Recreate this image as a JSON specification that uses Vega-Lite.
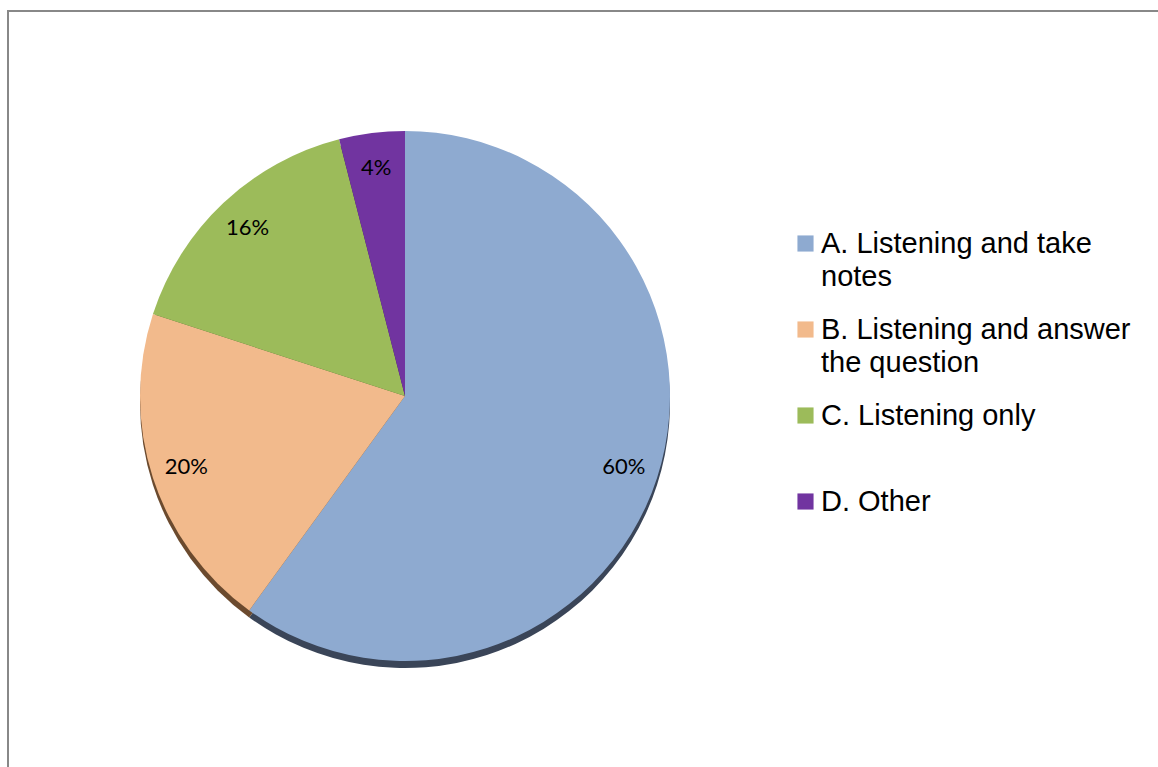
{
  "$schema": "https://vega.github.io/schema/vega-lite/v6.json",
  "width": 1160,
  "height": 770,
  "autosize": {"type": "none"},
  "padding": {"left": 8, "top": 11, "right": 0, "bottom": 0},
  "background": "white",
  "view": {"stroke": "#888888", "strokeWidth": 2, "fill": "white"},
  "config": {"view": {"stroke": "#888888", "strokeWidth": 2}},
  "data": {
    "values": [
      {"category": "A. Listening and take|notes", "value": 60, "label": "60%"},
      {"category": "B. Listening and answer|the question", "value": 20, "label": "20%"},
      {"category": "C. Listening only| ", "value": 16, "label": "16%"},
      {"category": "D. Other| ", "value": 4, "label": "4%"}
    ]
  },
  "encoding": {
    "theta": {"field": "value", "type": "quantitative", "stack": true},
    "order": {"field": "category", "sort": "ascending"}
  },
  "layer": [
    {
      "mark": {"type": "arc", "radius": 265, "x": 397, "yOffset": 7},
      "encoding": {
        "color": {
          "field": "category", "type": "nominal",
          "scale": {"range": ["#3A4558", "#6B4A2E", "#4F6030", "#3A1A55"]},
          "legend": null
        }
      }
    },
    {
      "mark": {"type": "arc", "radius": 265, "x": 397},
      "encoding": {
        "color": {
          "field": "category", "type": "nominal",
          "scale": {"range": ["#8EAAD0", "#F2BA8C", "#9CBB5A", "#7134A0"]},
          "legend": {
            "title": null,
            "orient": "none",
            "legendX": 783,
            "legendY": 218,
            "padding": 0,
            "symbolType": "square",
            "symbolSize": 260,
            "symbolStrokeWidth": 0,
            "labelFont": "Liberation Sans",
            "labelFontSize": 29,
            "labelLimit": 0,
            "labelOffset": 1,
            "labelColor": "#000000",
            "rowPadding": 23,
            "labelExpr": "split(datum.label, '|')",
            "encode": {"labels": {"update": {"lineHeight": {"value": 33}}}}
          }
        }
      }
    },
    {
      "mark": {"type": "text", "radius": 230, "x": 397, "font": "Lato", "fontSize": 22, "color": "#000000"},
      "encoding": {
        "detail": {"field": "category", "type": "nominal"},
        "text": {"field": "label", "type": "nominal"}
      }
    }
  ],
  "resolve": {"scale": {"color": "independent"}}
}
